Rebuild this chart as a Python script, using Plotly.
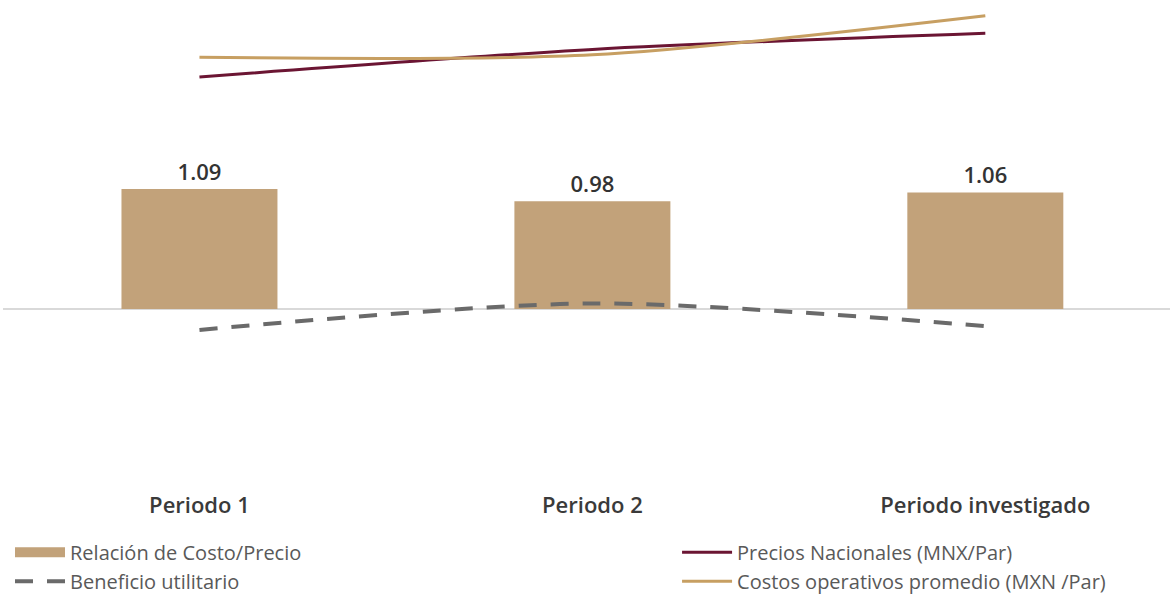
import plotly.graph_objects as go

categories = ["Periodo 1", "Periodo 2", "Periodo investigado"]
relacion_costo_precio = [1.09, 0.98, 1.06]
beneficio_utilitario = [-0.19, 0.05, -0.155]
precios_nacionales = [100.0, 110.1, 116.0]
costos_operativos = [107.2, 108.1, 122.4]

BAR_COLOR = "#c2a27a"
MAROON = "#6b1533"
GOLD = "#c79f62"
DASH_GRAY = "#6a6a6a"

fig = go.Figure()

fig.add_trace(go.Bar(
    x=categories, y=relacion_costo_precio, name="Relación de Costo/Precio",
    marker=dict(color=BAR_COLOR, line=dict(width=0)),
    texttemplate="%{y:.2f}", textposition="outside", cliponaxis=False,
    textfont=dict(family="Open Sans", size=22, color="#333333", weight=600),
    yaxis="y", showlegend=False,
))
# legend proxy giving the wide block symbol of the bar series
fig.add_trace(go.Scatter(
    x=[None], y=[None], name="Relación de Costo/Precio", mode="lines",
    line=dict(color=BAR_COLOR, width=13), legend="legend", hoverinfo="skip",
))
fig.add_trace(go.Scatter(
    x=categories, y=beneficio_utilitario, name="Beneficio utilitario",
    mode="lines", line=dict(color=DASH_GRAY, width=4, dash="18px,14px", shape="spline", smoothing=0.8),
    yaxis="y", legend="legend",
))
fig.add_trace(go.Scatter(
    x=categories, y=precios_nacionales, name="Precios Nacionales (MNX/Par)",
    mode="lines", line=dict(color=MAROON, width=3, shape="spline", smoothing=0.8),
    yaxis="y2", legend="legend2",
))
fig.add_trace(go.Scatter(
    x=categories, y=costos_operativos, name="Costos operativos promedio (MXN /Par)",
    mode="lines", line=dict(color=GOLD, width=3, shape="spline", smoothing=0.8),
    yaxis="y2", legend="legend2",
))

legend_font = dict(family="Open Sans", size=20, color="#595959")

fig.update_layout(
    width=1170, height=594,
    margin=dict(l=3, r=0, t=0, b=104, autoexpand=False),
    paper_bgcolor="white", plot_bgcolor="white",
    bargap=0.603,
    showlegend=True,
    legend=dict(
        orientation="v", x=0.006, xanchor="left", y=-0.087, yanchor="top",
        itemwidth=50, font=legend_font, tracegroupgap=0, bgcolor="rgba(0,0,0,0)",
    ),
    legend2=dict(
        orientation="v", x=0.5776, xanchor="left", y=-0.087, yanchor="top",
        itemwidth=50, font=legend_font, tracegroupgap=0, bgcolor="rgba(0,0,0,0)",
    ),
    xaxis=dict(
        type="category", range=[-0.5, 2.47],
        showgrid=False, showline=False, zeroline=False, ticks="",
        tickfont=dict(family="Open Sans", size=22, color="#3a3a3a", weight=600),
    ),
    yaxis=dict(
        range=[-1.6455, 2.809], visible=True, showgrid=False, showticklabels=False,
        zeroline=True, zerolinecolor="#d9d9d9", zerolinewidth=2, showline=False, ticks="",
    ),
    yaxis2=dict(
        range=[-51.3, 128.2], overlaying="y", side="right", visible=False,
        showgrid=False, zeroline=False,
    ),
)

fig.write_html(
    "out.html",
    config={"displayModeBar": False},
    post_script="document.body.style.margin='0px';",
)
